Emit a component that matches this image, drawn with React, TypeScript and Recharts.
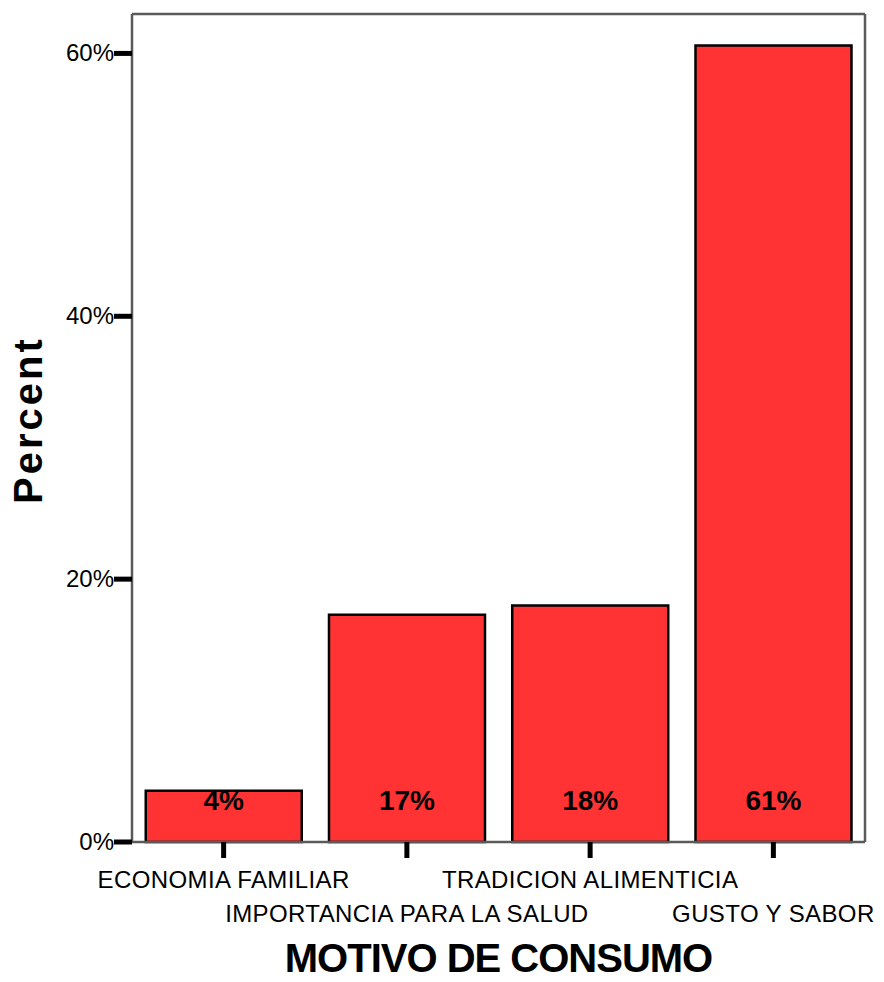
import React from "react";
import {
  BarChart,
  Bar,
  XAxis,
  YAxis,
  ReferenceLine,
  LabelList,
} from "recharts";

const motivos = [
  "ECONOMIA FAMILIAR",
  "IMPORTANCIA PARA LA SALUD",
  "TRADICION ALIMENTICIA",
  "GUSTO Y SABOR",
];
const porcentajes = [3.9, 17.3, 18.0, 60.6];
const yTicks = [0, 20, 40, 60];

const FONT = "'Liberation Sans', Arial, Helvetica, sans-serif";
const FRAME = "#5a5a5a";

const data = motivos.map((name, i) => ({ name, value: porcentajes[i] }));

// category labels alternate between two rows so they don't collide
function CategoryTick(props: any) {
  const { x, y, payload, index } = props;
  const dy = index % 2 === 0 ? 28 : 62;
  return (
    <text
      x={x}
      y={y + dy}
      textAnchor="middle"
      fontFamily={FONT}
      fontSize={24}
      fill="#000"
      letterSpacing={0.4}
    >
      {payload.value}
    </text>
  );
}

function PercentTick(props: any) {
  const { x, y, payload } = props;
  return (
    <text
      x={x + 2}
      y={y}
      dy={8}
      textAnchor="end"
      fontFamily={FONT}
      fontSize={24}
      fill="#000"
    >
      {`${payload.value}%`}
    </text>
  );
}

function BarValue(props: any) {
  const { x, y, width, height, value } = props;
  return (
    <text
      x={x + width / 2}
      y={y + height - 32}
      textAnchor="middle"
      fontFamily={FONT}
      fontSize={28}
      fontWeight="bold"
      fill="#000"
    >
      {`${Math.round(value)}%`}
    </text>
  );
}

export default function App() {
  return (
    <div style={{ position: "absolute", left: 0, top: 0 }}>
      <BarChart
        width={884}
        height={982}
        data={data}
        margin={{ top: 14, right: 18, left: 0, bottom: 0 }}
        barCategoryGap="7.5%"
      >
        <XAxis
          dataKey="name"
          height={140}
          interval={0}
          tick={<CategoryTick />}
          tickSize={16}
          tickLine={{ stroke: "#000", strokeWidth: 5 }}
          axisLine={{ stroke: FRAME, strokeWidth: 2.5 }}
          label={({ viewBox }: any) => (
            <text
              x={viewBox.x + viewBox.width / 2}
              y={972}
              textAnchor="middle"
              fontFamily={FONT}
              fontSize={40}
              fontWeight="bold"
              fill="#000"
              letterSpacing={-1}
            >
              MOTIVO DE CONSUMO
            </text>
          )}
        />
        <YAxis
          width={132}
          domain={[0, 63]}
          ticks={yTicks}
          tick={<PercentTick />}
          tickSize={18}
          tickLine={{ stroke: "#000", strokeWidth: 5 }}
          axisLine={{ stroke: FRAME, strokeWidth: 2.5 }}
          label={({ viewBox }: any) => {
            const cy = viewBox.y + viewBox.height / 2 - 8;
            return (
              <text
                x={42}
                y={cy}
                transform={`rotate(-90, 42, ${cy})`}
                textAnchor="middle"
                fontFamily={FONT}
                fontSize={40}
                fontWeight="bold"
                fill="#000"
                letterSpacing={3}
              >
                Percent
              </text>
            );
          }}
        />
        <YAxis
          yAxisId="frame"
          orientation="right"
          width={1}
          domain={[0, 63]}
          tick={false}
          tickLine={false}
          axisLine={{ stroke: FRAME, strokeWidth: 2.5 }}
        />
        <ReferenceLine y={63} stroke={FRAME} strokeWidth={2.5} />
        <Bar
          dataKey="value"
          fill="#ff3334"
          stroke="#000"
          strokeWidth={2.5}
          isAnimationActive={false}
        >
          <LabelList dataKey="value" content={<BarValue />} />
        </Bar>
      </BarChart>
    </div>
  );
}
